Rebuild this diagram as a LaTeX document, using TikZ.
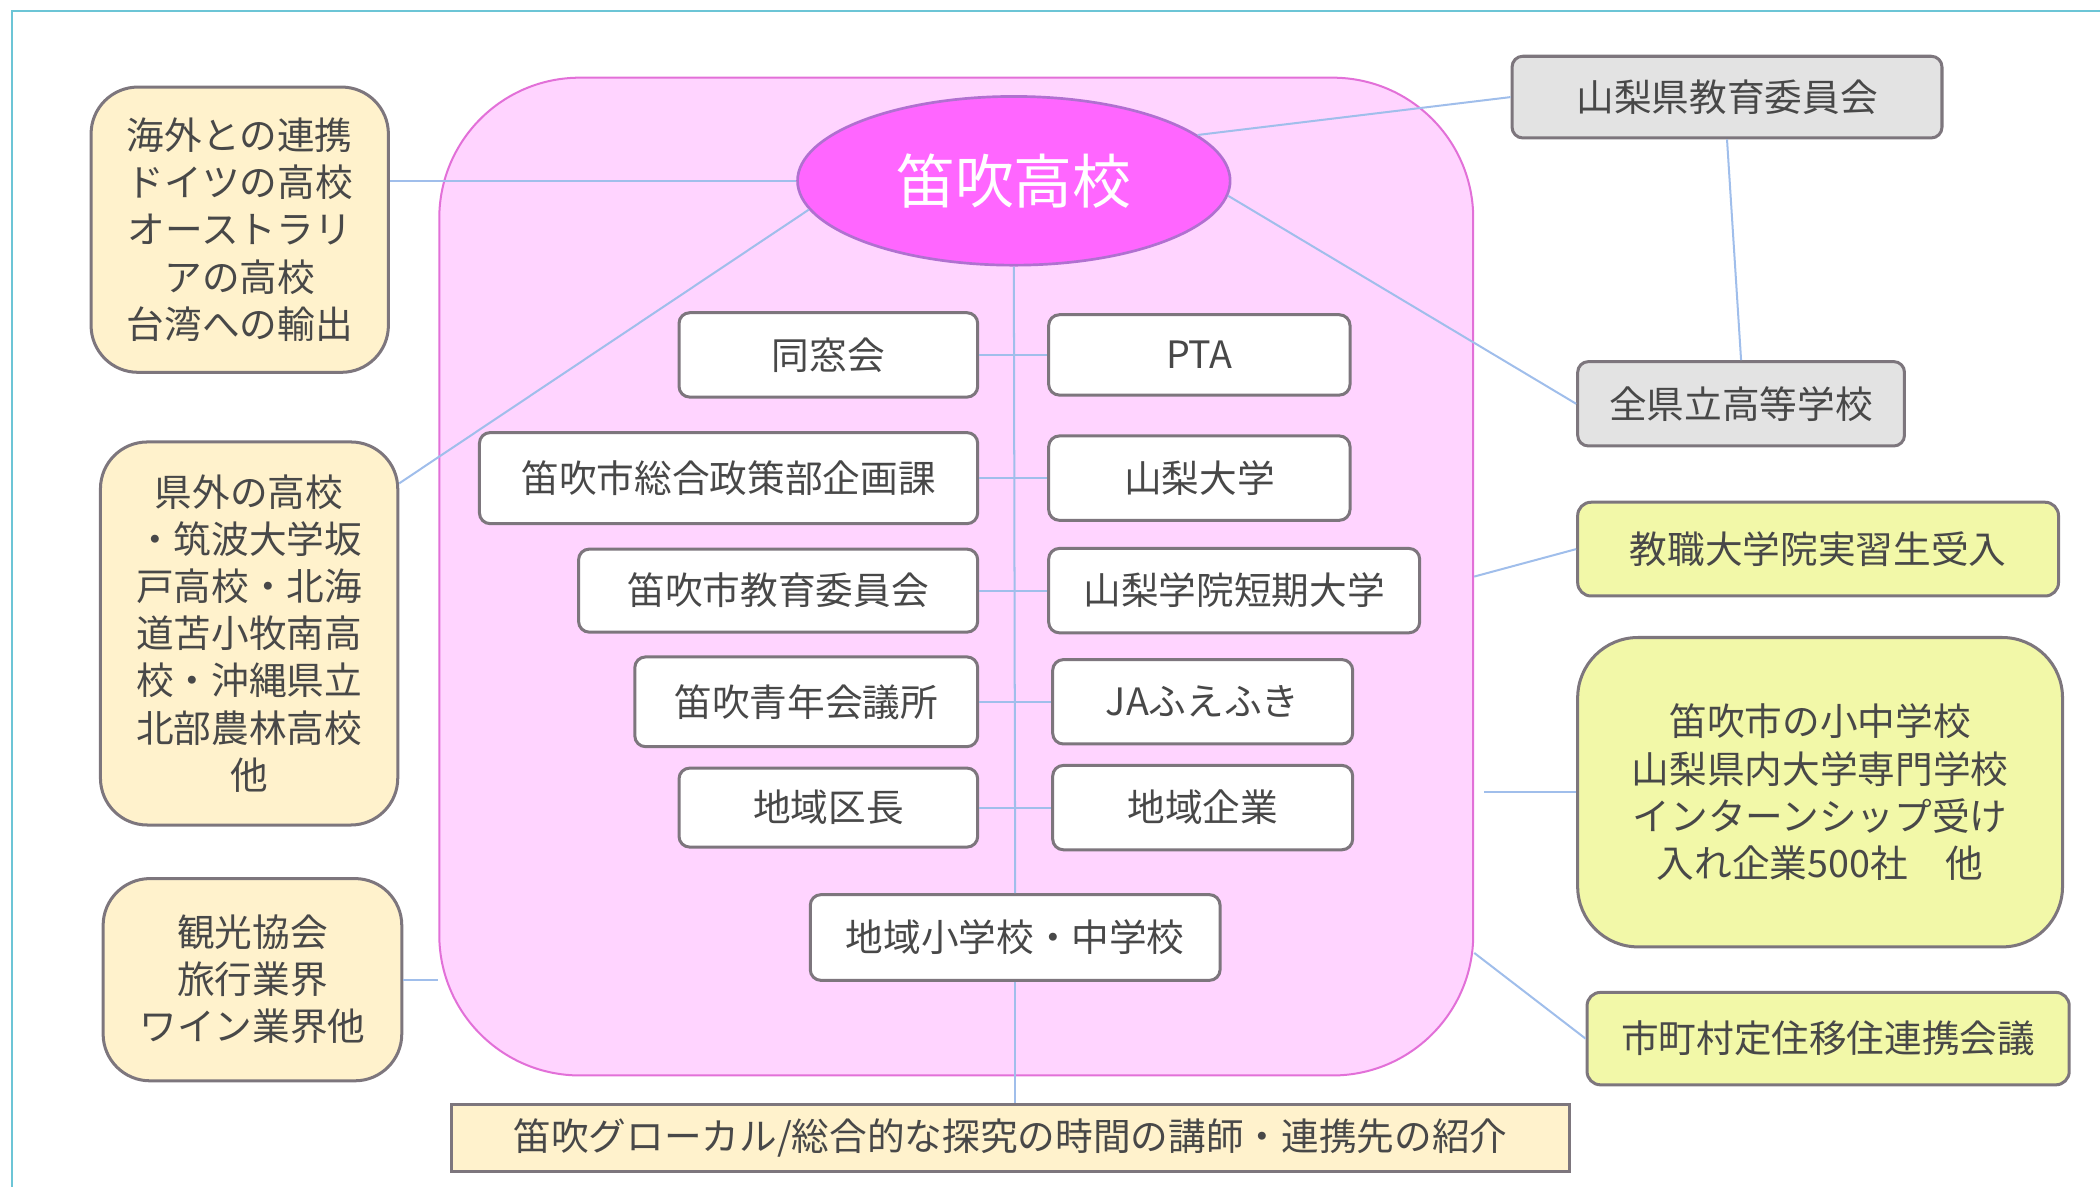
\documentclass[tikz,border=0pt]{standalone}
\usepackage{fontspec}
\setmainfont{Noto Sans CJK JP}
\definecolor{SoftPink}{RGB}{255,212,255}
\definecolor{EdgePink}{RGB}{226,112,216}
\definecolor{Fuchsia}{RGB}{255,102,255}
\definecolor{EdgePurple}{RGB}{176,112,208}
\definecolor{Cream}{RGB}{255,242,204}
\definecolor{PaleLime}{RGB}{242,248,168}
\definecolor{LightGrey}{RGB}{227,227,227}
\definecolor{BoxEdge}{RGB}{125,118,125}
\definecolor{LinkBlue}{RGB}{160,190,235}
\definecolor{FrameCyan}{RGB}{108,197,214}
\definecolor{InkGrey}{RGB}{72,72,72}
\usetikzlibrary{shapes.geometric}

\begin{document}
\begin{tikzpicture}[x=0.2mm, y=-0.2mm,
  every node/.style={font=\fontsize{16}{20}\selectfont, text=InkGrey, align=center,
    inner sep=0pt, line width=0.45mm},
  link/.style={LinkBlue, line width=0.3mm},
  member/.style={draw=BoxEdge, fill=white, rounded corners=1.6mm},
  partner/.style={draw=BoxEdge, fill=Cream, rounded corners=7mm},
  agency/.style={draw=BoxEdge, fill=LightGrey, rounded corners=1.6mm},
  support/.style={draw=BoxEdge, fill=PaleLime, rounded corners=2mm},
]

  \useasboundingbox (0,0) rectangle (1568,886);

  \draw[FrameCyan, line width=0.3mm] (9,886) -- (9,8) -- (1568,8);

  \node[draw=EdgePink, fill=SoftPink, rounded corners=21mm, line width=0.3mm,
    minimum width=154.4mm, minimum height=149mm] (area) at (714,430.5) {};

  \node[ellipse, draw=EdgePurple, fill=Fuchsia, line width=0.4mm, text=white,
    minimum width=64.6mm, minimum height=25.2mm,
    font=\fontsize{25}{30}\selectfont] (school) at (757,135) {笛吹高校};

  \node[member, minimum width=44.6mm, minimum height=12.6mm] (dousou) at (618.5,265) {同窓会};
  \node[member, minimum width=74.4mm, minimum height=13.6mm] (kikaku) at (544,357) {笛吹市総合政策部企画課};
  \node[member, minimum width=59.6mm, minimum height=12.4mm] (shikyoi) at (581,441) {笛吹市教育委員会};
  \node[member, minimum width=51.2mm, minimum height=13.4mm] (seinen) at (602,524) {笛吹青年会議所};
  \node[member, minimum width=44.6mm, minimum height=11.8mm] (kucho) at (618.5,603) {地域区長};

  \node[member, minimum width=45mm, minimum height=12mm] (pta) at (895.5,265) {PTA};
  \node[member, minimum width=45mm, minimum height=12.6mm] (yamadai) at (895.5,357) {山梨大学};
  \node[member, minimum width=55.4mm, minimum height=12.6mm] (gakuin) at (921.5,441) {山梨学院短期大学};
  \node[member, minimum width=44.8mm, minimum height=12.6mm] (ja) at (898,524) {JAふえふき};
  \node[member, minimum width=44.8mm, minimum height=12.6mm] (kigyo) at (898,603) {地域企業};

  \node[member, minimum width=61.2mm, minimum height=12.8mm] (shougaku) at (758,700) {地域小学校・中学校};

  \node[partner, minimum width=44.4mm, minimum height=42.6mm] (kaigai) at (179,171.5)
    {海外との連携\\ドイツの高校\\オーストラリ\\アの高校\\台湾への輸出};
  \node[partner, minimum width=44.4mm, minimum height=57.2mm] (kengai) at (186,473)
    {県外の高校\\・筑波大学坂\\戸高校・北海\\道苫小牧南高\\校・沖縄県立\\北部農林高校\\他};
  \node[partner, minimum width=44.6mm, minimum height=30.2mm] (kankou) at (188.5,731.5)
    {観光協会\\旅行業界\\ワイン業界他};

  \node[agency, minimum width=64.2mm, minimum height=12.2mm] (kenkyoi) at (1289.5,72.5) {山梨県教育委員会};
  \node[agency, minimum width=48.8mm, minimum height=12.6mm] (zenken) at (1300,301.5) {全県立高等学校};

  \node[support, minimum width=71.8mm, minimum height=14mm] (kyoshoku) at (1357.5,410) {教職大学院実習生受入};
  \node[support, rounded corners=9mm, minimum width=72.4mm, minimum height=46.2mm] (intern) at (1359,591.5)
    {笛吹市の小中学校\\山梨県内大学専門学校\\インターンシップ受け\\入れ企業500社　他};
  \node[support, minimum width=72mm, minimum height=13.8mm] (teiju) at (1365,775.5) {市町村定住移住連携会議};

  \node[draw=BoxEdge, fill=Cream, minimum width=167mm, minimum height=10mm] (glocal) at (754.5,850)
    {笛吹グローカル/総合的な探究の時間の講師・連携先の紹介};

  \draw[link] (school.south) -- (shougaku.north);
  \draw[link] (shougaku.south) -- (shougaku.south |- glocal.north);
  \draw[link] (dousou.east) -- (pta.west);
  \draw[link] (kikaku.east) -- (yamadai.west);
  \draw[link] (shikyoi.east) -- (gakuin.west);
  \draw[link] (seinen.east) -- (ja.west);
  \draw[link] (kucho.east) -- (kigyo.west);

  \draw[link] (school.west) -- (school.west -| kaigai.east);
  \draw[link] (school.188) -- (kengai.45);
  \draw[link] (kankou.east) -- (kankou.east -| area.west);

  \draw[link] (school.14) -- (kenkyoi.west);
  \draw[link] (kenkyoi.south) -- (zenken.north);
  \draw[link] (school.-4) -- (zenken.west);
  \draw[link] (area.east) -- (kyoshoku.west);
  \draw[link, shorten >=1.4mm] (intern.west) -- (intern.west -| area.east);
  \draw[link] (area.-36) -- (teiju.west);

\end{tikzpicture}
\end{document}
